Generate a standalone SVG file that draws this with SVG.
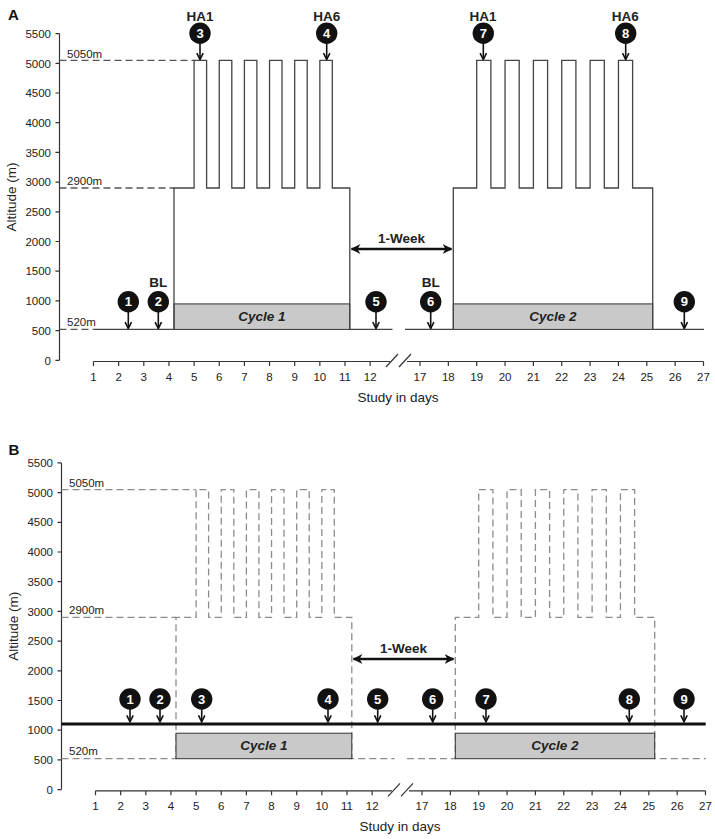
<svg xmlns="http://www.w3.org/2000/svg" width="715" height="839" viewBox="0 0 715 839">
<style>
text{font-family:"Liberation Sans",Arial,sans-serif;fill:#222}
.ax{stroke:#333;stroke-width:1.2;fill:none}
.tl{font-size:11.5px;text-anchor:end}
.xl{font-size:11.5px;text-anchor:middle}
.ttl{font-size:13.5px}
.ref{font-size:11.5px}
.pl{font-size:15px;font-weight:bold;fill:#111}
.sol{stroke:#444;stroke-width:1.3;fill:none}
.dsh{stroke:#555;stroke-width:1.3;fill:none;stroke-dasharray:7 4}
.dshb{stroke:#8c8c8c;stroke-width:1.3;fill:none;stroke-dasharray:7 4}
.box{fill:#c9c9c9;stroke:#333;stroke-width:1}
.cyc{font-size:13.5px;font-weight:bold;font-style:italic;text-anchor:middle;fill:#222}
.lab{font-size:13.5px;font-weight:bold;text-anchor:middle;fill:#222}
.mk circle{fill:#111}
.mk text{font-size:13px;font-weight:bold;fill:#fff;text-anchor:middle}
.arr{stroke:#111;stroke-width:1.6;fill:none;marker-end:url(#chev)}
.wk{stroke:#111;stroke-width:2.4;fill:none;marker-start:url(#tri);marker-end:url(#tri)}
</style>
<defs>
<marker id="chev" viewBox="0 0 10 10" refX="9" refY="5" markerWidth="8" markerHeight="9" markerUnits="userSpaceOnUse" orient="auto">
<path d="M1,1 L9,5 L1,9" fill="none" stroke="#111" stroke-width="2"/>
</marker>
<marker id="tri" viewBox="0 0 10 10" refX="9" refY="5" markerWidth="10" markerHeight="10" markerUnits="userSpaceOnUse" orient="auto-start-reverse">
<path d="M0,0 L10,5 L0,10 L3,5 z" fill="#111"/>
</marker>
<g id="yaxis">
<path class="ax" d="M59.5,33.6 V360.3 M55.5,33.6 H59.5 M55.5,63.3 H59.5 M55.5,93 H59.5 M55.5,122.7 H59.5 M55.5,152.4 H59.5 M55.5,182.1 H59.5 M55.5,211.8 H59.5 M55.5,241.5 H59.5 M55.5,271.2 H59.5 M55.5,300.9 H59.5 M55.5,330.6 H59.5 M55.5,360.3 H59.5"/>
<text class="tl" x="51" y="37.8">5500</text>
<text class="tl" x="51" y="67.5">5000</text>
<text class="tl" x="51" y="97.2">4500</text>
<text class="tl" x="51" y="126.9">4000</text>
<text class="tl" x="51" y="156.6">3500</text>
<text class="tl" x="51" y="186.3">3000</text>
<text class="tl" x="51" y="216">2500</text>
<text class="tl" x="51" y="245.7">2000</text>
<text class="tl" x="51" y="275.4">1500</text>
<text class="tl" x="51" y="305.1">1000</text>
<text class="tl" x="51" y="334.8">500</text>
<text class="tl" x="51" y="364.5">0</text>
<text class="ttl" transform="translate(16,197) rotate(-90)" text-anchor="middle">Altitude (m)</text>
</g>
<g id="xaxis">
<path class="ax" d="M93.5,361.5 H390 M407,361.5 H703.5 M93.5,361.5 V366 M118.65,361.5 V366 M143.8,361.5 V366 M168.95,361.5 V366 M194.1,361.5 V366 M219.25,361.5 V366 M244.4,361.5 V366 M269.55,361.5 V366 M294.7,361.5 V366 M319.85,361.5 V366 M345,361.5 V366 M370.15,361.5 V366 M420,361.5 V366 M448.35,361.5 V366 M476.7,361.5 V366 M505.05,361.5 V366 M533.4,361.5 V366 M561.75,361.5 V366 M590.1,361.5 V366 M618.45,361.5 V366 M646.8,361.5 V366 M675.15,361.5 V366 M703.5,361.5 V366"/>
<path class="ax" d="M386,367 L398,354 M399,367 L411,354"/>
<text class="xl" x="93.5" y="381">1</text>
<text class="xl" x="118.65" y="381">2</text>
<text class="xl" x="143.8" y="381">3</text>
<text class="xl" x="168.95" y="381">4</text>
<text class="xl" x="194.1" y="381">5</text>
<text class="xl" x="219.25" y="381">6</text>
<text class="xl" x="244.4" y="381">7</text>
<text class="xl" x="269.55" y="381">8</text>
<text class="xl" x="294.7" y="381">9</text>
<text class="xl" x="319.85" y="381">10</text>
<text class="xl" x="345" y="381">11</text>
<text class="xl" x="370.15" y="381">12</text>
<text class="xl" x="420" y="381">17</text>
<text class="xl" x="448.35" y="381">18</text>
<text class="xl" x="476.7" y="381">19</text>
<text class="xl" x="505.05" y="381">20</text>
<text class="xl" x="533.4" y="381">21</text>
<text class="xl" x="561.75" y="381">22</text>
<text class="xl" x="590.1" y="381">23</text>
<text class="xl" x="618.45" y="381">24</text>
<text class="xl" x="646.8" y="381">25</text>
<text class="xl" x="675.15" y="381">26</text>
<text class="xl" x="703.5" y="381">27</text>
<text class="ttl" x="398" y="401.5" text-anchor="middle">Study in days</text>
</g>
<g id="reflabels">
<text class="ref" x="67" y="57.5">5050m</text>
<text class="ref" x="67" y="185">2900m</text>
<text class="ref" x="67" y="326">520m</text>
</g>
</defs>

<!-- Panel A -->
<g id="panelA">
<text class="pl" x="8" y="20">A</text>
<use href="#yaxis"/>
<use href="#xaxis"/>
<use href="#reflabels"/>
<g id="A-cycle1"><rect class="box" x="174" y="303.9" width="175.8" height="25.5"/><text class="cyc" x="262" y="321">Cycle 1</text></g>
<g id="A-cycle2"><rect class="box" x="453.3" y="303.9" width="199.4" height="25.5"/><text class="cyc" x="553" y="321">Cycle 2</text></g>
<g id="A-profile">
<path class="dsh" d="M59.5,329.4 H93.5 M59.5,188 H174 M59.5,60.3 H194.1"/>
<path class="sol" d="M93.5,329.4 H174 V188 H194.1 V60.3 H206.6 V188 H219.25 V60.3 H231.8 V188 H244.4 V60.3 H256.9 V188 H269.55 V60.3 H282 V188 H294.7 V60.3 H307.2 V188 H319.85 V60.3 H332.3 V188 H349.8 V329.4 H392.5"/>
<path class="sol" d="M405,329.4 H453.3 V188 H476.7 V60.3 H490.9 V188 H505.05 V60.3 H519.2 V188 H533.4 V60.3 H547.6 V188 H561.75 V60.3 H575.9 V188 H590.1 V60.3 H604.3 V188 H618.45 V60.3 H632.6 V188 H652.7 V329.4 H704"/>
</g>
<g id="A-connectors">
<line class="arr" x1="128.3" y1="312" x2="128.3" y2="328.5"/>
<line class="arr" x1="158.3" y1="312" x2="158.3" y2="328.5"/>
<line class="arr" x1="200" y1="43.5" x2="200" y2="59.5"/>
<line class="arr" x1="326.7" y1="43.5" x2="326.7" y2="59.5"/>
<line class="arr" x1="376" y1="312" x2="376" y2="328.5"/>
<line class="arr" x1="430.7" y1="312" x2="430.7" y2="328.5"/>
<line class="arr" x1="483.3" y1="43.5" x2="483.3" y2="59.5"/>
<line class="arr" x1="625.7" y1="43.5" x2="625.7" y2="59.5"/>
<line class="arr" x1="684.3" y1="312" x2="684.3" y2="328.5"/>
<line class="wk" x1="351.5" y1="249" x2="451.5" y2="249"/>
</g>
<text class="lab" x="401.5" y="242.5">1-Week</text>
<text class="lab" x="158.3" y="287.3">BL</text>
<text class="lab" x="430.7" y="287.3">BL</text>
<text class="lab" x="200" y="20.5">HA1</text>
<text class="lab" x="326.7" y="20.5">HA6</text>
<text class="lab" x="483" y="20.5">HA1</text>
<text class="lab" x="625.3" y="20.5">HA6</text>
<g id="A-m1" class="mk"><circle cx="128.3" cy="301.7" r="10.7"/><text x="128.3" y="306.3">1</text></g>
<g id="A-m2" class="mk"><circle cx="158.3" cy="301.7" r="10.7"/><text x="158.3" y="306.3">2</text></g>
<g id="A-m3" class="mk"><circle cx="200" cy="33.3" r="10.7"/><text x="200" y="37.9">3</text></g>
<g id="A-m4" class="mk"><circle cx="326.7" cy="33.3" r="10.7"/><text x="326.7" y="37.9">4</text></g>
<g id="A-m5" class="mk"><circle cx="376" cy="301.7" r="10.7"/><text x="376" y="306.3">5</text></g>
<g id="A-m6" class="mk"><circle cx="430.7" cy="301.7" r="10.7"/><text x="430.7" y="306.3">6</text></g>
<g id="A-m7" class="mk"><circle cx="483.3" cy="33.3" r="10.7"/><text x="483.3" y="37.9">7</text></g>
<g id="A-m8" class="mk"><circle cx="625.7" cy="33.3" r="10.7"/><text x="625.7" y="37.9">8</text></g>
<g id="A-m9" class="mk"><circle cx="684.3" cy="301.7" r="10.7"/><text x="684.3" y="306.3">9</text></g>
</g>

<!-- Panel B -->
<g id="panelB" transform="translate(2,429.3)">
<text class="pl" x="6.5" y="25.7">B</text>
<use href="#yaxis"/>
<use href="#xaxis"/>
<use href="#reflabels"/>
<g id="B-profile">
<path class="dshb" d="M59.5,188 H174 M59.5,60.3 H194.1"/>
<path class="dshb" d="M59.5,329.4 H174 V188 H194.1 V60.3 H206.6 V188 H219.25 V60.3 H231.8 V188 H244.4 V60.3 H256.9 V188 H269.55 V60.3 H282 V188 H294.7 V60.3 H307.2 V188 H319.85 V60.3 H332.3 V188 H349.8 V329.4 H392.5"/>
<path class="dshb" d="M405,329.4 H453.3 V188 H476.7 V60.3 H490.9 V188 H505.05 V60.3 H519.2 V188 H533.4 V60.3 H547.6 V188 H561.75 V60.3 H575.9 V188 H590.1 V60.3 H604.3 V188 H618.45 V60.3 H632.6 V188 H652.7 V329.4 H704"/>
</g>
<g id="B-cycle1"><rect class="box" x="174" y="303.9" width="175.8" height="25.5"/><text class="cyc" x="262" y="321">Cycle 1</text></g>
<g id="B-cycle2"><rect class="box" x="453.3" y="303.9" width="199.4" height="25.5"/><text class="cyc" x="553" y="321">Cycle 2</text></g>
<line id="B-level" x1="59.5" y1="294.7" x2="703.7" y2="294.7" stroke="#111" stroke-width="3"/>
<g id="B-connectors">
<line class="arr" x1="128" y1="280" x2="128" y2="292.5"/>
<line class="arr" x1="158" y1="280" x2="158" y2="292.5"/>
<line class="arr" x1="199.7" y1="280" x2="199.7" y2="292.5"/>
<line class="arr" x1="326" y1="280" x2="326" y2="292.5"/>
<line class="arr" x1="375.7" y1="280" x2="375.7" y2="292.5"/>
<line class="arr" x1="430.7" y1="280" x2="430.7" y2="292.5"/>
<line class="arr" x1="484" y1="280" x2="484" y2="292.5"/>
<line class="arr" x1="627.3" y1="280" x2="627.3" y2="292.5"/>
<line class="arr" x1="682" y1="280" x2="682" y2="292.5"/>
<line class="wk" x1="351.5" y1="229.7" x2="451.5" y2="229.7"/>
</g>
<text class="lab" x="401.5" y="223.4">1-Week</text>
<g id="B-m1" class="mk"><circle cx="128" cy="269.7" r="10.7"/><text x="128" y="274.3">1</text></g>
<g id="B-m2" class="mk"><circle cx="158" cy="269.7" r="10.7"/><text x="158" y="274.3">2</text></g>
<g id="B-m3" class="mk"><circle cx="199.7" cy="269.7" r="10.7"/><text x="199.7" y="274.3">3</text></g>
<g id="B-m4" class="mk"><circle cx="326" cy="269.7" r="10.7"/><text x="326" y="274.3">4</text></g>
<g id="B-m5" class="mk"><circle cx="375.7" cy="269.7" r="10.7"/><text x="375.7" y="274.3">5</text></g>
<g id="B-m6" class="mk"><circle cx="430.7" cy="269.7" r="10.7"/><text x="430.7" y="274.3">6</text></g>
<g id="B-m7" class="mk"><circle cx="484" cy="269.7" r="10.7"/><text x="484" y="274.3">7</text></g>
<g id="B-m8" class="mk"><circle cx="627.3" cy="269.7" r="10.7"/><text x="627.3" y="274.3">8</text></g>
<g id="B-m9" class="mk"><circle cx="682" cy="269.7" r="10.7"/><text x="682" y="274.3">9</text></g>
</g>
</svg>
